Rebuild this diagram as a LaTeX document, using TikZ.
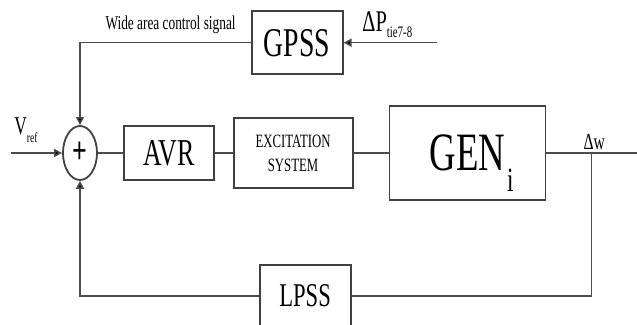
\documentclass[tikz,border=0pt]{standalone}
\usepackage{fontspec}
\setmainfont{Liberation Serif}[FakeStretch=0.68]
\usetikzlibrary{shapes.geometric, positioning, arrows.meta}

\tikzset{
	blk/.style={draw=black!75, line width=0.9pt, inner sep=0pt},
	sig/.style={draw=black!70, line width=0.8pt},
	arr/.style={sig, -{Triangle[length=4pt,width=4pt,fill=black]}},
	lbl/.style={inner sep=0pt}
}

\begin{document}
\begin{tikzpicture}[x=0.5pt, y=-0.5pt]
	\useasboundingbox (0,0) rectangle (637,325);
	
	\node[blk, ellipse, minimum width=17pt, minimum height=27pt] (sum) at (80,153) {\fontsize{19}{19}\selectfont\textbf{+}};
	\node[blk, minimum width=45pt, minimum height=27pt, right=12.5pt of sum] (avr) {\fontsize{19}{19}\selectfont AVR};
	\node[blk, minimum width=59.5pt, minimum height=35pt, right=9pt of avr, align=center] (exc) {\fontsize{9.4}{13}\selectfont EXCITATION\\ \fontsize{9.4}{13}\selectfont SYSTEM};
	\node[blk, minimum width=78pt, minimum height=47pt, right=17.5pt of exc] (gen) {\fontsize{27}{27}\selectfont GEN\rlap{\hspace{1pt}\smash{\raisebox{-10.5pt}{\fontsize{17}{17}\selectfont i}}}};
	\node[blk, minimum width=45.5pt, minimum height=31.5pt, above=21pt of exc, xshift=2pt] (gpss) {\fontsize{20.4}{20}\selectfont GPSS};
	\node[blk, minimum width=45.5pt, minimum height=31pt, below=37.5pt of exc, xshift=6pt] (lpss) {\fontsize{16.6}{17}\selectfont LPSS};
	
	\coordinate[left=25.5pt of sum] (vin);
	\coordinate[right=22.5pt of gen.east] (tap);
	\coordinate[right=26pt of tap] (out);
	\coordinate[right=46.5pt of gpss.east] (dpin);
	
	% labels
	\node[lbl, anchor=base west] (vref) at (14,135) {\fontsize{12.8}{13}\selectfont V\raisebox{-4pt}{\fontsize{7}{7}\selectfont ref}};
	\node[lbl, anchor=base west] (dp) at (362,32) {\fontsize{15}{15}\selectfont ΔP\raisebox{-3pt}{\fontsize{8}{8}\selectfont tie7-8}};
	\node[lbl, above=1.5pt of tap, xshift=1.5pt] (dw) {\fontsize{11.5}{12}\selectfont Δw};
	\node[lbl, anchor=base east] (wacs) at (236,30) {\fontsize{9.8}{10}\selectfont Wide area control signal};
	
	\draw[arr] (vin) -- (sum);
	\draw[sig] (sum) -- (avr);
	\draw[sig] (avr) -- (exc);
	\draw[sig] (exc) -- (gen);
	\draw[sig] (gen) -- (out);
	\draw[arr] (dpin) -- (gpss);
	\draw[arr] (gpss.west) -| (sum.north);
	\draw[sig] (tap) |- (lpss.east);
	\draw[arr] (lpss.west) -| (sum.south);
\end{tikzpicture}
\end{document}
